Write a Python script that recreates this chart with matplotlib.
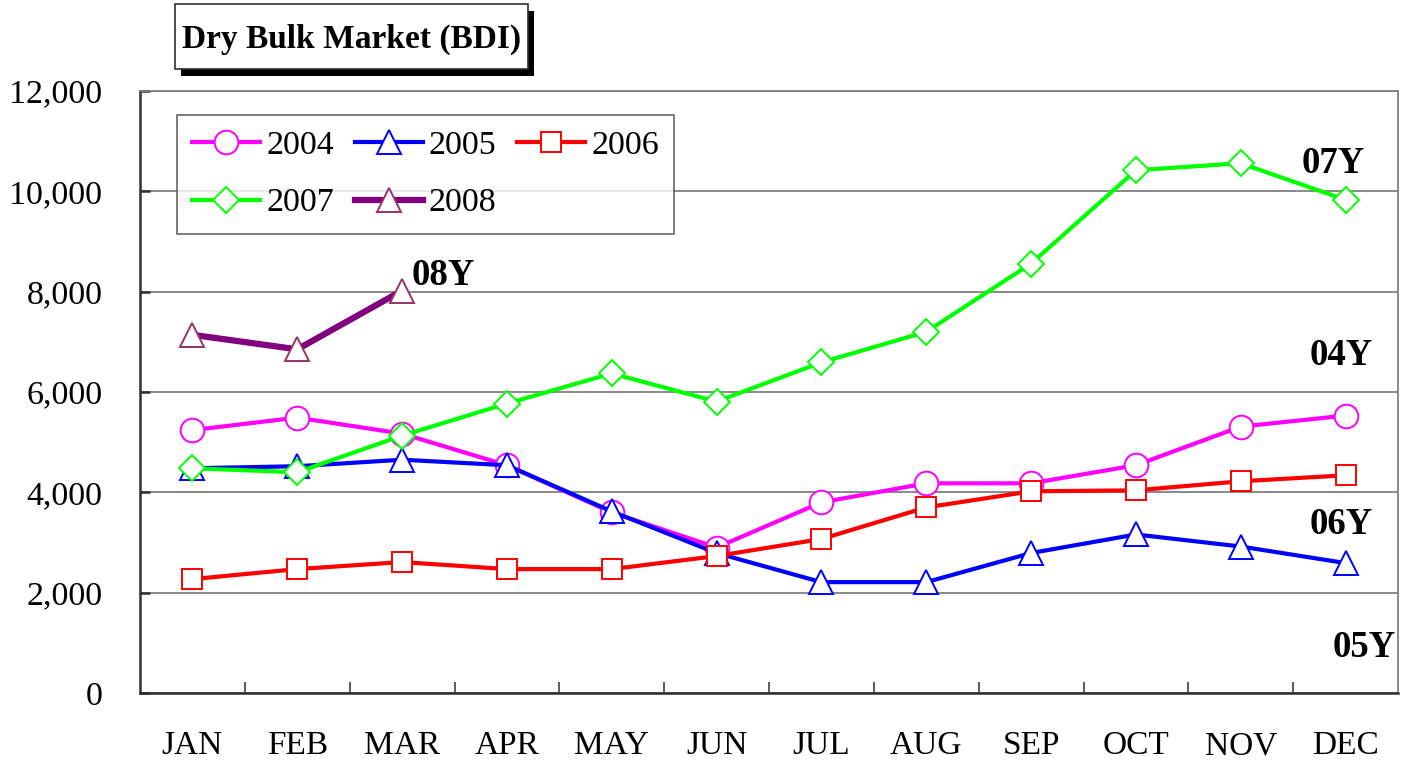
#!/usr/bin/env python3
# Dry bulk market (BDI) monthly averages, 2004-2008

import numpy as np
import matplotlib as mpl
mpl.use('Agg')
import matplotlib.pyplot as plt
from matplotlib.patches import Rectangle
from matplotlib.ticker import FixedLocator, FuncFormatter

plt.rcParams['font.family'] = ['Liberation Serif', 'DejaVu Serif']

months = ['JAN', 'FEB', 'MAR', 'APR', 'MAY', 'JUN',
          'JUL', 'AUG', 'SEP', 'OCT', 'NOV', 'DEC']

bdi_2004 = [5240, 5490, 5170, 4540, 3600, 2900, 3800, 4180, 4180, 4540, 5310, 5530]
bdi_2005 = [4480, 4520, 4650, 4540, 3620, 2790, 2210, 2210, 2790, 3160, 2920, 2590]
bdi_2006 = [2270, 2470, 2610, 2470, 2470, 2730, 3070, 3700, 4020, 4040, 4220, 4340]
bdi_2007 = [4480, 4400, 5130, 5770, 6370, 5810, 6590, 7200, 8560, 10420, 10560, 9830]
bdi_2008 = [7140, 6850, 8020]

yticks = [0, 2000, 4000, 6000, 8000, 10000, 12000]

W, H = 1401, 761
fig = plt.figure(figsize=(W / 100, H / 100), dpi=100, facecolor='white')
ax = fig.add_axes([140 / W, 1 - 693 / H, 1258 / W, 602 / H])

STYLE = {
    'lw': 3.0,
    'ms': 17,
    'mew': 1.4,
    'mfc': 'white',
}

x = np.arange(len(months))
l04, = ax.plot(x, bdi_2004, color='#FF00FF', marker='o', mec='#FF00FF', label='2004', zorder=3, **STYLE)
l05, = ax.plot(x, bdi_2005, color='#0000FF', marker='^', mec='#0000FF', label='2005', zorder=4, **STYLE)
l06, = ax.plot(x, bdi_2006, color='#FF0000', marker='s', mec='#FF0000', label='2006', zorder=5,
               **{**STYLE, 'ms': 14})
l07, = ax.plot(x, bdi_2007, color='#00FF00', marker='D', mec='#00FF00', label='2007', zorder=6,
               **{**STYLE, 'ms': 13.5})
l08, = ax.plot(x[:len(bdi_2008)], bdi_2008, color='#800080', marker='^', mec='#993366',
               label='2008', zorder=7, **{**STYLE, 'lw': 4.5})

ax.set_xlim(-0.5, len(months) - 0.5)
ax.set_ylim(0, 12000)

# month labels sit between the inward boundary ticks
ax.set_xticks(x)
ax.set_xticklabels(months, fontsize=24, va='baseline')
ax.xaxis.set_minor_locator(FixedLocator(np.arange(0.5, len(months) - 1, 1.0)))
ax.tick_params(axis='x', which='major', length=0, pad=44)
ax.tick_params(axis='x', which='minor', direction='in', length=8, width=1.2, color='#404040')

ax.yaxis.set_major_locator(FixedLocator(yticks))
ax.yaxis.set_major_formatter(FuncFormatter(lambda v, _: f'{int(v):,}'))
ax.tick_params(axis='y', direction='in', length=7, width=1.8, color='#303030',
               labelsize=24.5, pad=27)

ax.grid(axis='y', color='#808080', lw=1.3)
ax.set_axisbelow(True)
for side in ('top', 'right'):
    ax.spines[side].set_color('#808080')
    ax.spines[side].set_linewidth(1.3)
for side in ('left', 'bottom'):
    ax.spines[side].set_color('#303030')
    ax.spines[side].set_linewidth(1.8)

# legend is filled column-wise, so reorder to read 2004 2005 2006 / 2007 2008
handles = [l04, l07, l05, l08, l06]
leg = ax.legend(handles, [h.get_label() for h in handles],
                loc='upper left', bbox_to_anchor=(37 / 1258, 1 - 24 / 602), ncol=3,
                fontsize=24.5, frameon=True, fancybox=False, borderaxespad=0,
                handlelength=2.0, handletextpad=0.18, columnspacing=0.6,
                borderpad=0.45, labelspacing=0.78, edgecolor='#404040')
leg.get_frame().set_linewidth(1.2)
leg.set_zorder(10)

bold = {'fontsize': 26.5, 'fontweight': 'bold', 'va': 'center'}
ax.text(2.09, 8320, '08Y', ha='left', **bold)
ax.text(10.88, 10550, '07Y', ha='center', **bold)
ax.text(10.96, 6730, '04Y', ha='center', **bold)
ax.text(10.96, 3360, '06Y', ha='center', **bold)
ax.text(11.18, 900, '05Y', ha='center', **bold)

# title box with a drop shadow
bx0, by0, bx1, by1 = 175, 4, 528, 69
fig.add_artist(Rectangle(((bx0 + 6) / W, 1 - (by1 + 7) / H), (bx1 - bx0) / W, (by1 - by0) / H,
                         transform=fig.transFigure, facecolor='black', edgecolor='none'))
fig.add_artist(Rectangle((bx0 / W, 1 - by1 / H), (bx1 - bx0) / W, (by1 - by0) / H,
                         transform=fig.transFigure, facecolor='white', edgecolor='#303030', lw=1.2))
fig.text((bx0 + bx1) / 2 / W, 1 - 39 / H, 'Dry Bulk Market (BDI)',
         ha='center', va='center', fontsize=24, fontweight='bold')

fig.savefig('out.png', dpi=100, facecolor='white')
